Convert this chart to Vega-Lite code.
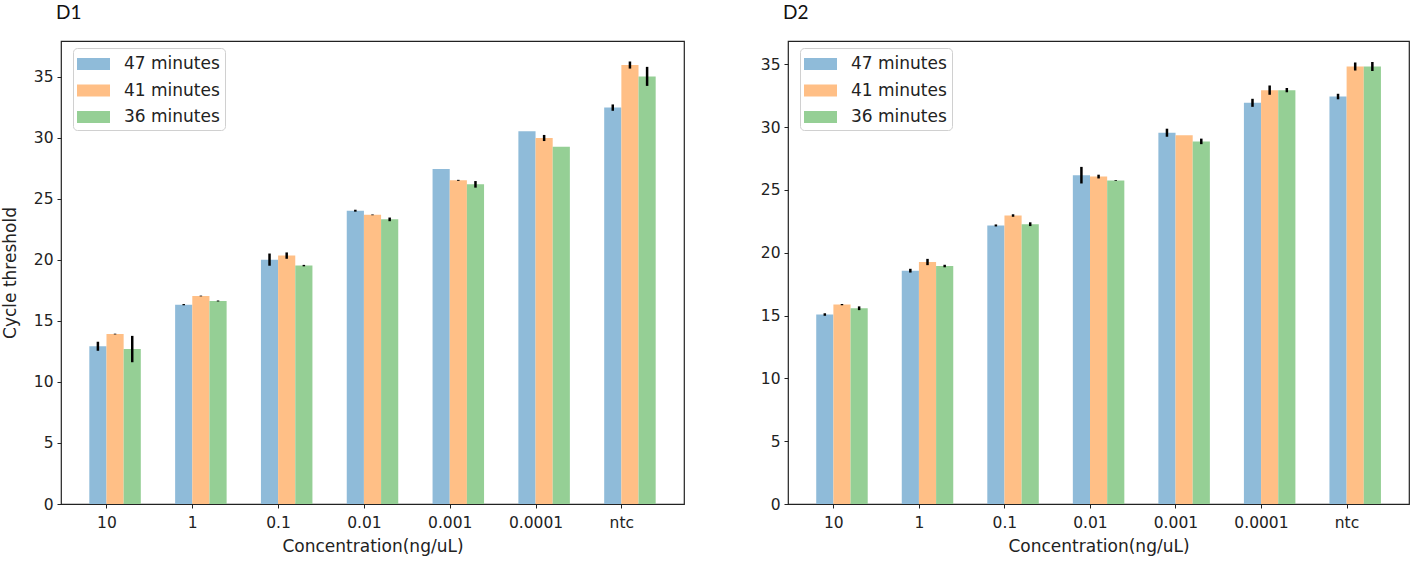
{
  "$schema": "https://vega.github.io/schema/vega-lite/v6.json",
  "background": "white",
  "padding": {"left": 0, "top": 3, "right": 5, "bottom": 0},
  "config": {
    "font": "DejaVu Sans",
    "view": {"stroke": "#222222", "strokeWidth": 1.2},
    "axis": {
      "grid": false,
      "domain": false,
      "tickColor": "#222222",
      "tickSize": 4,
      "labelFontSize": 15.5,
      "labelColor": "#222222",
      "labelPadding": 4,
      "titleFontSize": 17,
      "titleFontWeight": "normal",
      "titleColor": "#222222"
    },
    "title": {"font": "Lato", "fontSize": 19, "fontWeight": "normal", "color": "#111111", "anchor": "start", "frame": "group", "offset": 18, "dx": -5},
    "legend": {
      "orient": "none",
      "legendX": 12,
      "legendY": 7,
      "padding": 5,
      "fillColor": "rgba(255,255,255,0.85)",
      "strokeColor": "#d0d0d0",
      "cornerRadius": 4,
      "symbolType": "M-1.5,-0.55H1.5V0.55H-1.5Z",
      "symbolSize": 484,
      "symbolStrokeWidth": 0,
      "symbolOpacity": 1,
      "symbolOffset": 4.5,
      "labelFontSize": 17,
      "labelColor": "#222222",
      "labelOffset": 19.5,
      "rowPadding": 7.5
    }
  },
  "datasets": {
    "ct": [
      {"panel": "D1", "conc": "10", "series": "47 minutes", "ct": 12.93, "err": 0.37},
      {"panel": "D1", "conc": "10", "series": "41 minutes", "ct": 13.93, "err": 0.03},
      {"panel": "D1", "conc": "10", "series": "36 minutes", "ct": 12.7, "err": 1.08},
      {"panel": "D1", "conc": "1", "series": "47 minutes", "ct": 16.34, "err": 0.05},
      {"panel": "D1", "conc": "1", "series": "41 minutes", "ct": 17.05, "err": 0.03},
      {"panel": "D1", "conc": "1", "series": "36 minutes", "ct": 16.64, "err": 0.04},
      {"panel": "D1", "conc": "0.1", "series": "47 minutes", "ct": 20.03, "err": 0.5},
      {"panel": "D1", "conc": "0.1", "series": "41 minutes", "ct": 20.36, "err": 0.26},
      {"panel": "D1", "conc": "0.1", "series": "36 minutes", "ct": 19.54, "err": 0.06},
      {"panel": "D1", "conc": "0.01", "series": "47 minutes", "ct": 24.04, "err": 0.08},
      {"panel": "D1", "conc": "0.01", "series": "41 minutes", "ct": 23.7, "err": 0.03},
      {"panel": "D1", "conc": "0.01", "series": "36 minutes", "ct": 23.33, "err": 0.15},
      {"panel": "D1", "conc": "0.001", "series": "47 minutes", "ct": 27.46, "err": 0},
      {"panel": "D1", "conc": "0.001", "series": "41 minutes", "ct": 26.53, "err": 0.04},
      {"panel": "D1", "conc": "0.001", "series": "36 minutes", "ct": 26.2, "err": 0.27},
      {"panel": "D1", "conc": "0.0001", "series": "47 minutes", "ct": 30.55, "err": 0},
      {"panel": "D1", "conc": "0.0001", "series": "41 minutes", "ct": 30.0, "err": 0.25},
      {"panel": "D1", "conc": "0.0001", "series": "36 minutes", "ct": 29.29, "err": 0},
      {"panel": "D1", "conc": "ntc", "series": "47 minutes", "ct": 32.49, "err": 0.26},
      {"panel": "D1", "conc": "ntc", "series": "41 minutes", "ct": 35.98, "err": 0.29},
      {"panel": "D1", "conc": "ntc", "series": "36 minutes", "ct": 35.05, "err": 0.78},
      {"panel": "D2", "conc": "10", "series": "47 minutes", "ct": 15.08, "err": 0.1},
      {"panel": "D2", "conc": "10", "series": "41 minutes", "ct": 15.87, "err": 0.05},
      {"panel": "D2", "conc": "10", "series": "36 minutes", "ct": 15.58, "err": 0.15},
      {"panel": "D2", "conc": "1", "series": "47 minutes", "ct": 18.57, "err": 0.15},
      {"panel": "D2", "conc": "1", "series": "41 minutes", "ct": 19.26, "err": 0.25},
      {"panel": "D2", "conc": "1", "series": "36 minutes", "ct": 18.94, "err": 0.1},
      {"panel": "D2", "conc": "0.1", "series": "47 minutes", "ct": 22.17, "err": 0.08},
      {"panel": "D2", "conc": "0.1", "series": "41 minutes", "ct": 22.96, "err": 0.1},
      {"panel": "D2", "conc": "0.1", "series": "36 minutes", "ct": 22.27, "err": 0.15},
      {"panel": "D2", "conc": "0.01", "series": "47 minutes", "ct": 26.17, "err": 0.66},
      {"panel": "D2", "conc": "0.01", "series": "41 minutes", "ct": 26.06, "err": 0.15},
      {"panel": "D2", "conc": "0.01", "series": "36 minutes", "ct": 25.74, "err": 0.03},
      {"panel": "D2", "conc": "0.001", "series": "47 minutes", "ct": 29.55, "err": 0.32},
      {"panel": "D2", "conc": "0.001", "series": "41 minutes", "ct": 29.34, "err": 0},
      {"panel": "D2", "conc": "0.001", "series": "36 minutes", "ct": 28.86, "err": 0.22},
      {"panel": "D2", "conc": "0.0001", "series": "47 minutes", "ct": 31.93, "err": 0.32},
      {"panel": "D2", "conc": "0.0001", "series": "41 minutes", "ct": 32.94, "err": 0.37},
      {"panel": "D2", "conc": "0.0001", "series": "36 minutes", "ct": 32.94, "err": 0.17},
      {"panel": "D2", "conc": "ntc", "series": "47 minutes", "ct": 32.43, "err": 0.22},
      {"panel": "D2", "conc": "ntc", "series": "41 minutes", "ct": 34.82, "err": 0.32},
      {"panel": "D2", "conc": "ntc", "series": "36 minutes", "ct": 34.82, "err": 0.36}
    ]
  },
  "resolve": {
    "scale": {"x": "independent", "y": "independent", "color": "independent"},
    "legend": {"color": "independent"}
  },
  "spacing": 74,
  "hconcat": [
    {
      "title": "D1",
      "width": 623,
      "height": 463,
      "data": {"name": "ct"},
      "transform": [{"filter": "datum.panel === 'D1'"}],
      "encoding": {
        "x": {
          "field": "conc",
          "type": "nominal",
          "sort": ["10", "1", "0.1", "0.01", "0.001", "0.0001", "ntc"],
          "scale": {"paddingInner": 0.4, "paddingOuter": 0.33},
          "axis": {"title": "Concentration(ng/uL)", "labelAngle": 0, "tickOffset": -8.6, "labelPadding": 7, "titlePadding": 8}
        },
        "xOffset": {
          "field": "series",
          "type": "nominal",
          "sort": ["47 minutes", "41 minutes", "36 minutes"],
          "scale": {"paddingInner": 0, "paddingOuter": 0}
        },
        "y": {
          "field": "ct",
          "type": "quantitative",
          "scale": {"domain": [0, 37.95], "nice": false, "zero": true},
          "axis": {"title": "Cycle threshold", "values": [0, 5, 10, 15, 20, 25, 30, 35], "titlePadding": 14}
        }
      },
      "layer": [
        {
          "mark": {"type": "bar"},
          "encoding": {
            "color": {
              "field": "series",
              "type": "nominal",
              "title": null,
              "sort": ["47 minutes", "41 minutes", "36 minutes"],
              "scale": {"domain": ["47 minutes", "41 minutes", "36 minutes"], "range": ["#8fbbd9", "#ffbf86", "#95cf95"]}
            }
          }
        },
        {
          "mark": {"type": "errorbar", "color": "black", "thickness": 2.5},
          "encoding": {
            "yError": {"field": "err"}
          }
        }
      ]
    },
    {
      "title": "D2",
      "width": 621,
      "height": 463,
      "data": {"name": "ct"},
      "transform": [{"filter": "datum.panel === 'D2'"}],
      "encoding": {
        "x": {
          "field": "conc",
          "type": "nominal",
          "sort": ["10", "1", "0.1", "0.01", "0.001", "0.0001", "ntc"],
          "scale": {"paddingInner": 0.4, "paddingOuter": 0.33},
          "axis": {"title": "Concentration(ng/uL)", "labelAngle": 0, "tickOffset": -8.6, "labelPadding": 7, "titlePadding": 8}
        },
        "xOffset": {
          "field": "series",
          "type": "nominal",
          "sort": ["47 minutes", "41 minutes", "36 minutes"],
          "scale": {"paddingInner": 0, "paddingOuter": 0}
        },
        "y": {
          "field": "ct",
          "type": "quantitative",
          "scale": {"domain": [0, 36.85], "nice": false, "zero": true},
          "axis": {"title": null, "values": [0, 5, 10, 15, 20, 25, 30, 35]}
        }
      },
      "layer": [
        {
          "mark": {"type": "bar"},
          "encoding": {
            "color": {
              "field": "series",
              "type": "nominal",
              "title": null,
              "sort": ["47 minutes", "41 minutes", "36 minutes"],
              "scale": {"domain": ["47 minutes", "41 minutes", "36 minutes"], "range": ["#8fbbd9", "#ffbf86", "#95cf95"]}
            }
          }
        },
        {
          "mark": {"type": "errorbar", "color": "black", "thickness": 2.5},
          "encoding": {
            "yError": {"field": "err"}
          }
        }
      ]
    }
  ]
}
